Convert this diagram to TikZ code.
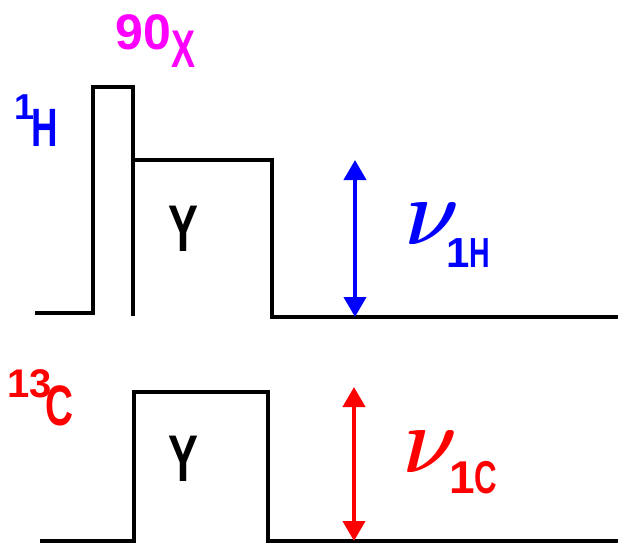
\documentclass[tikz,border=0pt]{standalone}
\usepackage{amsmath}
\usepackage{fontspec}
\usepackage{tikz}
\usetikzlibrary{arrows.meta}
\newfontfamily\narrowsf[FakeStretch=0.68]{Liberation Sans}
\newfontfamily\digitsf{Liberation Sans}
\newcommand{\sz}[1]{\fontsize{#1}{#1}\selectfont}
\newcommand{\bignu}{\scalebox{9.5}{\normalsize$\nu$}}
\newcommand{\thicknu}{\rlap{\bignu}\kern2pt\bignu}
\definecolor{hblue}{RGB}{0,0,255}
\definecolor{cred}{RGB}{255,0,0}
\definecolor{pmag}{RGB}{255,0,255}

\begin{document}
\begin{tikzpicture}[x=1pt, y=-1pt, every node/.style={inner sep=0pt, anchor=base west},
  pulse/.style={line width=4pt},
  freq/.style={line width=4pt, {Triangle[length=20pt,width=22pt]}-{Triangle[length=20pt,width=22pt]}}]
  \useasboundingbox (0,0) rectangle (618,544);
  % channel labels
  \node[text=hblue, font=\narrowsf\bfseries\sz{54}] (hname) at (14,146)
    {\raisebox{27pt}{\digitsf\sz{36}1}\kern-3pt H};
  \node[text=cred, font=\narrowsf\bfseries\sz{57}] (cname) at (7,425)
    {\raisebox{28pt}{\digitsf\sz{40}13}\kern-6pt C};
  \node[text=pmag, font=\narrowsf\bfseries\sz{53}] (phase) at (115,49)
    {{\digitsf\sz{50}90}\kern1pt\raisebox{-18pt}{X}};
  \node[font=\narrowsf\bfseries\sz{66}, anchor=center] (hy) at (183,229) {Y};
  \node[font=\narrowsf\bfseries\sz{66}, anchor=center] (cy) at (183,459) {Y};
  % H pulses
  \draw[pulse] (35,313) -- (93,313) -- (93,87) -- (133,87) -- (133,316);
  \draw[pulse] (133,160) -- (272,160) -- (272,317) -- (618,317);
  % C pulse
  \draw[pulse] (40,541) -- (134,541) -- (134,392) -- (268,392) -- (268,541) -- (618,541);
  % rf fields
  \coordinate (htop) at (355,160);
  \coordinate (hbot) at (355,317);
  \coordinate (ctop) at (354,387);
  \coordinate (cbot) at (354,541);
  \draw[freq, hblue] (hbot) -- (htop);
  \draw[freq, cred] (cbot) -- (ctop);
  \node[text=hblue, font=\narrowsf\bfseries\sz{42}] (nuh) at (404,244)
    {\thicknu\kern-13pt\raisebox{-23pt}{{\digitsf 1}H}};
  \node[text=cred, font=\narrowsf\bfseries\sz{46}] (nuc) at (402,472)
    {\thicknu\kern-8pt\raisebox{-21pt}{{\digitsf 1}C}};
\end{tikzpicture}
\end{document}
